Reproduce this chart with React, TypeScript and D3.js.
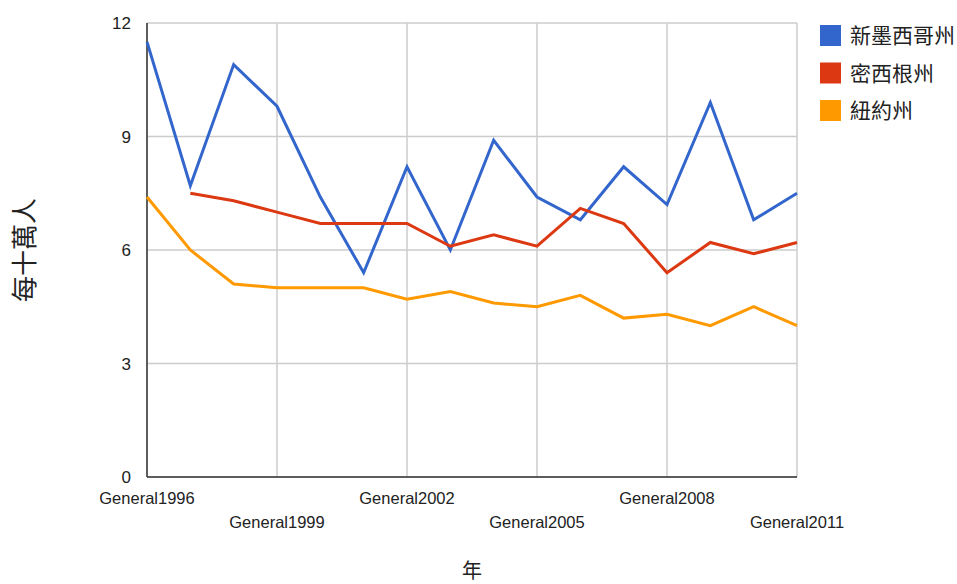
import React from "react";
import * as d3 from "d3";

const years = d3.range(1996, 2012).map((y) => `General${y}`);
const newMexico = [11.5, 7.7, 10.9, 9.8, 7.4, 5.4, 8.2, 6.0, 8.9, 7.4, 6.8, 8.2, 7.2, 9.9, 6.8, 7.5];
const michigan: (number | null)[] = [null, 7.5, 7.3, 7.0, 6.7, 6.7, 6.7, 6.1, 6.4, 6.1, 7.1, 6.7, 5.4, 6.2, 5.9, 6.2];
const newYork = [7.4, 6.0, 5.1, 5.0, 5.0, 5.0, 4.7, 4.9, 4.6, 4.5, 4.8, 4.2, 4.3, 4.0, 4.5, 4.0];
const yTicks = [0, 3, 6, 9, 12];
const seriesNames = ["新墨西哥州", "密西根州", "紐約州"];
const seriesColors = ["#3366cc", "#dc3912", "#ff9900"];

export default function App() {
  const W = 957, H = 584;
  const left = 147, right = 797, top = 23, bottom = 477;
  const x = d3.scalePoint<string>().domain(years).range([left, right]);
  const y = d3.scaleLinear().domain([0, 12]).range([bottom, top]);
  const line = d3
    .line<number | null>()
    .defined((d) => d !== null)
    .x((_, i) => x(years[i])!)
    .y((d) => y(d as number));
  const series = [newMexico, michigan, newYork];
  const labelled = years.filter((_, i) => i % 3 === 0);
  const font = "'Liberation Sans', Arial, sans-serif";
  const cjk = "'Noto Sans CJK TC', sans-serif";

  return (
    <svg width={W} height={H} style={{ position: "absolute", left: 0, top: 0, background: "#fff" }}>
      {yTicks.map((t) => (
        <line key={"h" + t} x1={left} x2={right} y1={y(t)} y2={y(t)} stroke="#cccccc" strokeWidth={1.5} />
      ))}
      {labelled.map((c) => (
        <line key={"v" + c} x1={x(c)} x2={x(c)} y1={top} y2={bottom} stroke="#cccccc" strokeWidth={1.5} />
      ))}
      <line x1={left} x2={left} y1={top} y2={bottom} stroke="#333" strokeWidth={1.5} />
      <line x1={left} x2={right} y1={bottom} y2={bottom} stroke="#333" strokeWidth={1.5} />
      {yTicks.map((t) => (
        <text key={"yt" + t} x={131} y={y(t)} dy="0.36em" textAnchor="end" fontFamily={font} fontSize={17} fill="#222">
          {t}
        </text>
      ))}
      {labelled.map((c, i) => (
        <text key={"xt" + c} x={x(c)} y={i % 2 === 0 ? 504 : 528} textAnchor="middle" fontFamily={font} fontSize={16.5} fill="#222">
          {c}
        </text>
      ))}
      {series.map((s, i) => (
        <path key={"s" + i} d={line(s as (number | null)[]) || ""} fill="none" stroke={seriesColors[i]} strokeWidth={3} strokeLinejoin="miter" />
      ))}
      {seriesNames.map((n, i) => (
        <g key={"lg" + i} transform={`translate(820, ${25 + i * 37.5})`}>
          <rect x={0} y={0} width={21} height={21} fill={seriesColors[i]} />
          <text x={30} y={10.5} dy="0.36em" fontFamily={cjk} fontSize={21} fill="#222">
            {n}
          </text>
        </g>
      ))}
      <text transform="translate(25, 250) rotate(-90)" textAnchor="middle" dy="0.36em" fontFamily={cjk} fontSize={26} fill="#222">
        每十萬人
      </text>
      <text x={472} y={571} dy="0.36em" textAnchor="middle" fontFamily={cjk} fontSize={20} fill="#222">
        年
      </text>
    </svg>
  );
}
